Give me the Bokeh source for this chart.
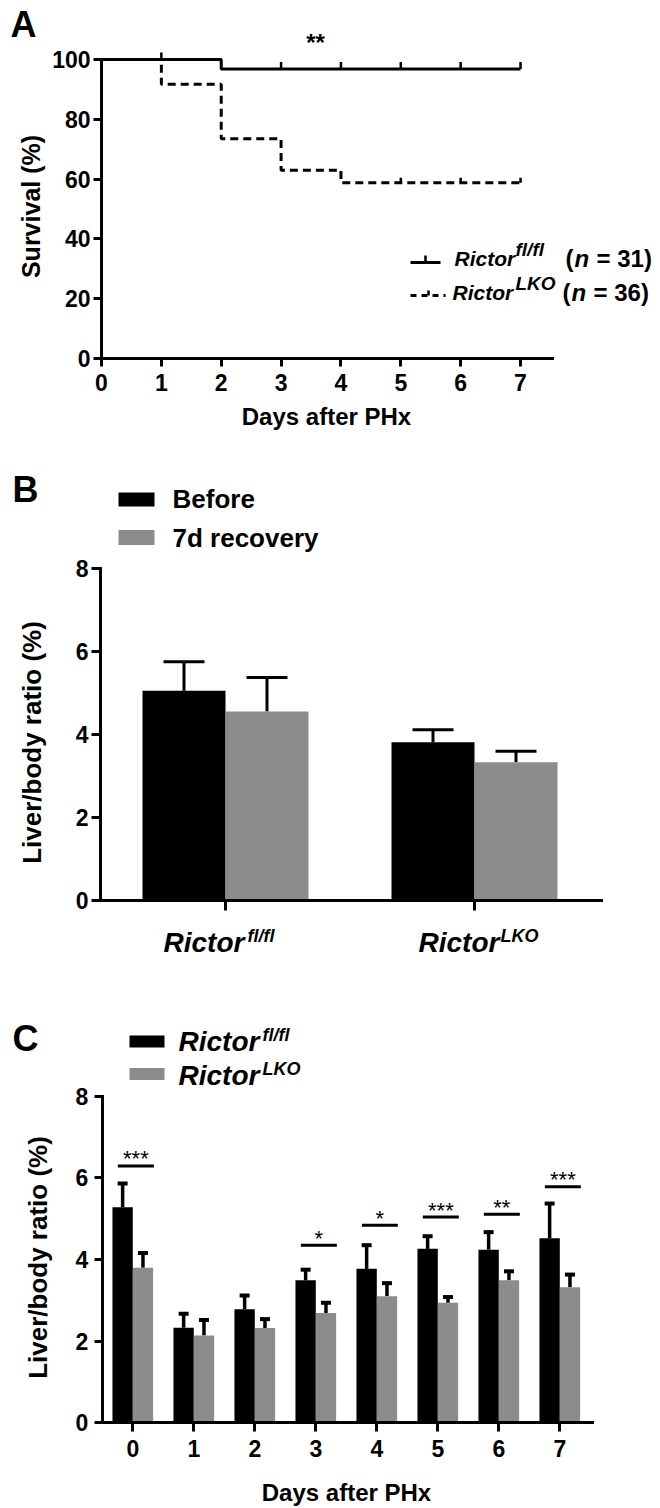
import numpy as np
from bokeh.plotting import figure
from bokeh.models import Range1d, FixedTicker, Label, Whisker, TeeHead, ColumnDataSource
from bokeh.layouts import column
from bokeh.embed import file_html
from bokeh.resources import INLINE
from bokeh.core.properties import value

FONT = "Liberation Sans"
BLACK = "#000000"
GRAY = "#8c8c8c"

# ---------------- data ----------------
# Panel A: Kaplan-Meier survival
surv_days = [0, 1, 2, 3, 4, 5, 6, 7]
surv_yticks = [0, 20, 40, 60, 80, 100]
fl_time = [0, 2, 7]
fl_surv = [100.0, 96.8, 96.8]
fl_censored = [1, 3, 4, 5, 6, 7]
lko_time = [0, 1, 2, 3, 4, 7]
lko_surv = [100.0, 91.7, 73.5, 63.0, 58.8, 58.8]
lko_censored = [5, 6, 7]
n_fl = 31
n_lko = 36
sig_a = "**"

# Panel B
b_groups = [("Rictor", "fl/fl"), ("Rictor", "LKO")]
b_series = ["Before", "7d recovery"]
b_before = [5.05, 3.81]
b_before_err = [0.70, 0.30]
b_recovery = [4.55, 3.33]
b_recovery_err = [0.82, 0.26]
b_yticks = [0, 2, 4, 6, 8]

# Panel C
c_days = [0, 1, 2, 3, 4, 5, 6, 7]
c_fl = [5.28, 2.33, 2.78, 3.49, 3.77, 4.26, 4.24, 4.52]
c_fl_err = [0.58, 0.34, 0.34, 0.26, 0.58, 0.31, 0.43, 0.85]
c_lko = [3.80, 2.14, 2.32, 2.69, 3.10, 2.94, 3.49, 3.32]
c_lko_err = [0.36, 0.38, 0.22, 0.25, 0.32, 0.14, 0.22, 0.31]
c_sig_days = [0, 3, 4, 5, 6, 7]
c_sig_text = ["***", "*", "*", "***", "**", "***"]
c_sig_level = [6.29, 4.35, 4.84, 5.04, 5.11, 5.78]
c_yticks = [0, 2, 4, 6, 8]

# ---------------- helpers ----------------
W = 660


def make_panel(fig_top, h, x0_ref, xs, y0_ref, ys):
    """Frame covers the whole canvas; axes are pinned with fixed_location."""
    x_range = Range1d((0 - x0_ref) / xs, (W - x0_ref) / xs)
    y_range = Range1d((y0_ref - (fig_top + h)) / ys, (y0_ref - fig_top) / ys)
    p = figure(width=W, height=h, x_range=x_range, y_range=y_range,
               output_backend="svg", toolbar_location=None)
    p.min_border_left = 0
    p.min_border_right = 0
    p.min_border_top = 0
    p.min_border_bottom = 0
    p.outline_line_color = None
    p.grid.visible = False
    p.background_fill_color = "white"
    p.border_fill_color = "white"

    def to_data(X, Y):
        return ((X - x0_ref) / xs, (y0_ref - Y) / ys)
    return p, to_data


def style_axes(p, xticks, yticks, xb, yb, xloc, yloc, xtick_out, ytick_out, xstd, ystd):
    for ax in (p.xaxis[0], p.yaxis[0]):
        ax.axis_line_width = 3
        ax.axis_line_color = "black"
        ax.axis_line_cap = "square"
        ax.major_tick_line_width = 3
        ax.major_tick_line_color = "black"
        ax.major_tick_in = 0
        ax.minor_tick_line_color = None
        ax.major_label_text_font = FONT
        ax.major_label_text_font_style = "bold"
        ax.major_label_text_font_size = "23px"
        ax.major_label_text_color = "black"
    p.xaxis.ticker = FixedTicker(ticks=xticks)
    p.yaxis.ticker = FixedTicker(ticks=yticks)
    p.xaxis.bounds = xb
    p.yaxis.bounds = yb
    p.xaxis.fixed_location = xloc
    p.yaxis.fixed_location = yloc
    p.xaxis.major_tick_out = xtick_out
    p.yaxis.major_tick_out = ytick_out
    p.xaxis.major_label_standoff = xstd
    p.yaxis.major_label_standoff = ystd


def lab(p, to_data, X, Y, text, size, style="bold", align="left", baseline="middle", angle=0):
    x, y = to_data(X, Y)
    p.add_layout(Label(x=x, y=y, text=text, text_font=FONT, text_font_size=f"{size}px",
                       text_font_style=style, text_align=align, text_baseline=baseline,
                       angle=angle, text_color="black"))


def surv_at(times, surv, t):
    idx = np.searchsorted(times, t, side="right") - 1
    return surv[idx]


# ---------------- Panel A ----------------
pa, ta = make_panel(fig_top=0, h=450, x0_ref=101, xs=59.86, y0_ref=358, ys=2.99)
style_axes(pa, surv_days, surv_yticks, (0, 7.53), (0, 100), 0, 0, 8, 8, 7, 3)

pa.step(lko_time, lko_surv, mode="after", line_width=3, line_color="black", line_dash="8 5")
pa.step(fl_time, fl_surv, mode="after", line_width=3, line_color="black")
tick_len = 7 / 2.99
fl_cs = [surv_at(fl_time, fl_surv, t) for t in fl_censored]
lko_cs = [surv_at(lko_time, lko_surv, t) for t in lko_censored]
pa.segment(x0=fl_censored, y0=fl_cs, x1=fl_censored, y1=[s + tick_len for s in fl_cs],
           line_width=2.5, line_color="black")
pa.segment(x0=lko_censored, y0=lko_cs, x1=lko_censored, y1=[s + 0.7 * tick_len for s in lko_cs],
           line_width=2.5, line_color="black")

lab(pa, ta, 10, 24, "A", 36)
lab(pa, ta, 315, 42, sig_a, 24, align="center", baseline="alphabetic")
lab(pa, ta, 30, 206, "Survival (%)", 25, align="center", angle=np.pi / 2)
lab(pa, ta, 326, 416, "Days after PHx", 24, align="center")

# legend A (samples)
x0, y0 = ta(410, 262)
x1, _ = ta(440, 262)
xm, ym = ta(425, 255)
pa.segment(x0=[x0], y0=[y0], x1=[x1], y1=[y0], line_width=3, line_color="black")
pa.segment(x0=[xm], y0=[y0], x1=[xm], y1=[ym], line_width=2.5, line_color="black")
x0, y0 = ta(410, 295)
x1, _ = ta(445, 295)
xm, ym = ta(428, 290)
pa.segment(x0=[x0], y0=[y0], x1=[x1], y1=[y0], line_width=3, line_color="black", line_dash="6 5")
pa.segment(x0=[xm], y0=[y0], x1=[xm], y1=[ym], line_width=2.5, line_color="black")
# legend A (texts)
for (txt, X, Y, size, style) in [
        ("Rictor", 454, 258, 21, "bold italic"), ("fl/fl", 515, 249, 19, "bold italic"),
        ("(", 565, 258, 24, "bold"), ("n", 574, 258, 24, "bold italic"),
        (f"= {n_fl})", 596, 258, 24, "bold"),
        ("Rictor", 452, 292, 21, "bold italic"), ("LKO", 515, 283, 19, "bold italic"),
        ("(", 562, 292, 24, "bold"), ("n", 571, 292, 24, "bold italic"),
        (f"= {n_lko})", 593, 292, 24, "bold")]:
    lab(pa, ta, X, Y, txt, size, style)

# ---------------- Panel B ----------------
pb, tb = make_panel(fig_top=450, h=514, x0_ref=225 - 249, xs=249, y0_ref=900, ys=41.54)
b_left = 1 - 125 / 249
style_axes(pb, [1, 2], b_yticks, (b_left, 1 + 376 / 249), (0, 8), 0, b_left, 10, 9, 4, 3)
pb.xaxis.major_label_text_color = None

bc = np.arange(1, len(b_groups) + 1)
bw = 1 / 3
xb1 = bc - bw / 2
xb2 = bc + bw / 2
pb.vbar(x=xb1, top=b_before, width=bw, fill_color=BLACK, line_color=None)
pb.vbar(x=xb2, top=b_recovery, width=bw, fill_color=GRAY, line_color=None)
for xs_, v, e in ((xb1, b_before, b_before_err), (xb2, b_recovery, b_recovery_err)):
    src = ColumnDataSource(dict(x=list(xs_), lower=v, upper=[a + b for a, b in zip(v, e)]))
    pb.add_layout(Whisker(source=src, base="x", lower="lower", upper="upper",
                          line_width=3, line_color="black", lower_head=None,
                          upper_head=TeeHead(size=41, line_width=3, line_color="black")))

lab(pb, tb, 12, 489, "B", 36)
sx, sy = tb(136, 499)
pb.rect(x=[sx], y=[sy], width=36, height=14, width_units="screen", height_units="screen",
        fill_color=BLACK, line_color=None)
sx, sy = tb(136, 537)
pb.rect(x=[sx], y=[sy], width=36, height=15, width_units="screen", height_units="screen",
        fill_color=GRAY, line_color=None)
lab(pb, tb, 172, 498, b_series[0], 26)
lab(pb, tb, 172, 537, b_series[1], 26)
lab(pb, tb, 31, 742, "Liver/body ratio (%)", 26, align="center", angle=np.pi / 2)
for (base, sup), left, sup_left in zip(b_groups, (163, 418), (247, 500)):
    lab(pb, tb, left, 942, base, 28, "bold italic")
    lab(pb, tb, sup_left, 935, sup, 18, "bold italic")

# ---------------- Panel C ----------------
pc, tc = make_panel(fig_top=964, h=544, x0_ref=132.3, xs=61.0, y0_ref=1422.3, ys=40.83)
c_left = -30.5 / 61
style_axes(pc, c_days, c_yticks, (c_left, 7.54), (0, 8), 0, c_left, 9, 8, 8, 6)

cd = np.array(c_days)
cw = 1 / 3
xc1 = cd - cw / 2
xc2 = cd + cw / 2
pc.vbar(x=xc1, top=c_fl, width=cw, fill_color=BLACK, line_color=None)
pc.vbar(x=xc2, top=c_lko, width=cw, fill_color=GRAY, line_color=None)
for xs_, v, e in ((xc1, c_fl, c_fl_err), (xc2, c_lko, c_lko_err)):
    src = ColumnDataSource(dict(x=list(xs_), lower=v, upper=[a + b for a, b in zip(v, e)]))
    pc.add_layout(Whisker(source=src, base="x", lower="lower", upper="upper",
                          line_width=3.5, line_color="black", lower_head=None,
                          upper_head=TeeHead(size=10, line_width=4, line_color="black")))

sd = np.array(c_sig_days) + 0.05
pc.segment(x0=sd - 0.295, y0=c_sig_level, x1=sd + 0.295, y1=c_sig_level,
           line_width=3, line_color="black")
pc.text(x=sd, y=c_sig_level, text=c_sig_text, text_font=value(FONT),
        text_font_size=value("22px"), text_align="center", text_baseline="alphabetic",
        y_offset=-7, text_color="black")

lab(pc, tc, 12, 1038, "C", 36)
sx, sy = tc(146.5, 1041)
pc.rect(x=[sx], y=[sy], width=35, height=12, width_units="screen", height_units="screen",
        fill_color=BLACK, line_color=None)
sx, sy = tc(146.5, 1073.5)
pc.rect(x=[sx], y=[sy], width=35, height=12, width_units="screen", height_units="screen",
        fill_color=GRAY, line_color=None)
for (base, sup), Y in zip(b_groups, (1041, 1075)):
    lab(pc, tc, 178, Y, base, 28, "bold italic")
    lab(pc, tc, 262, Y - 7, sup, 18, "bold italic")
lab(pc, tc, 37, 1257, "Liver/body ratio (%)", 26, align="center", angle=np.pi / 2)
lab(pc, tc, 346, 1492, "Days after PHx", 24, align="center")

layout = column(pa, pb, pc, spacing=0)
open("out.html", "w").write(file_html(layout, INLINE))
